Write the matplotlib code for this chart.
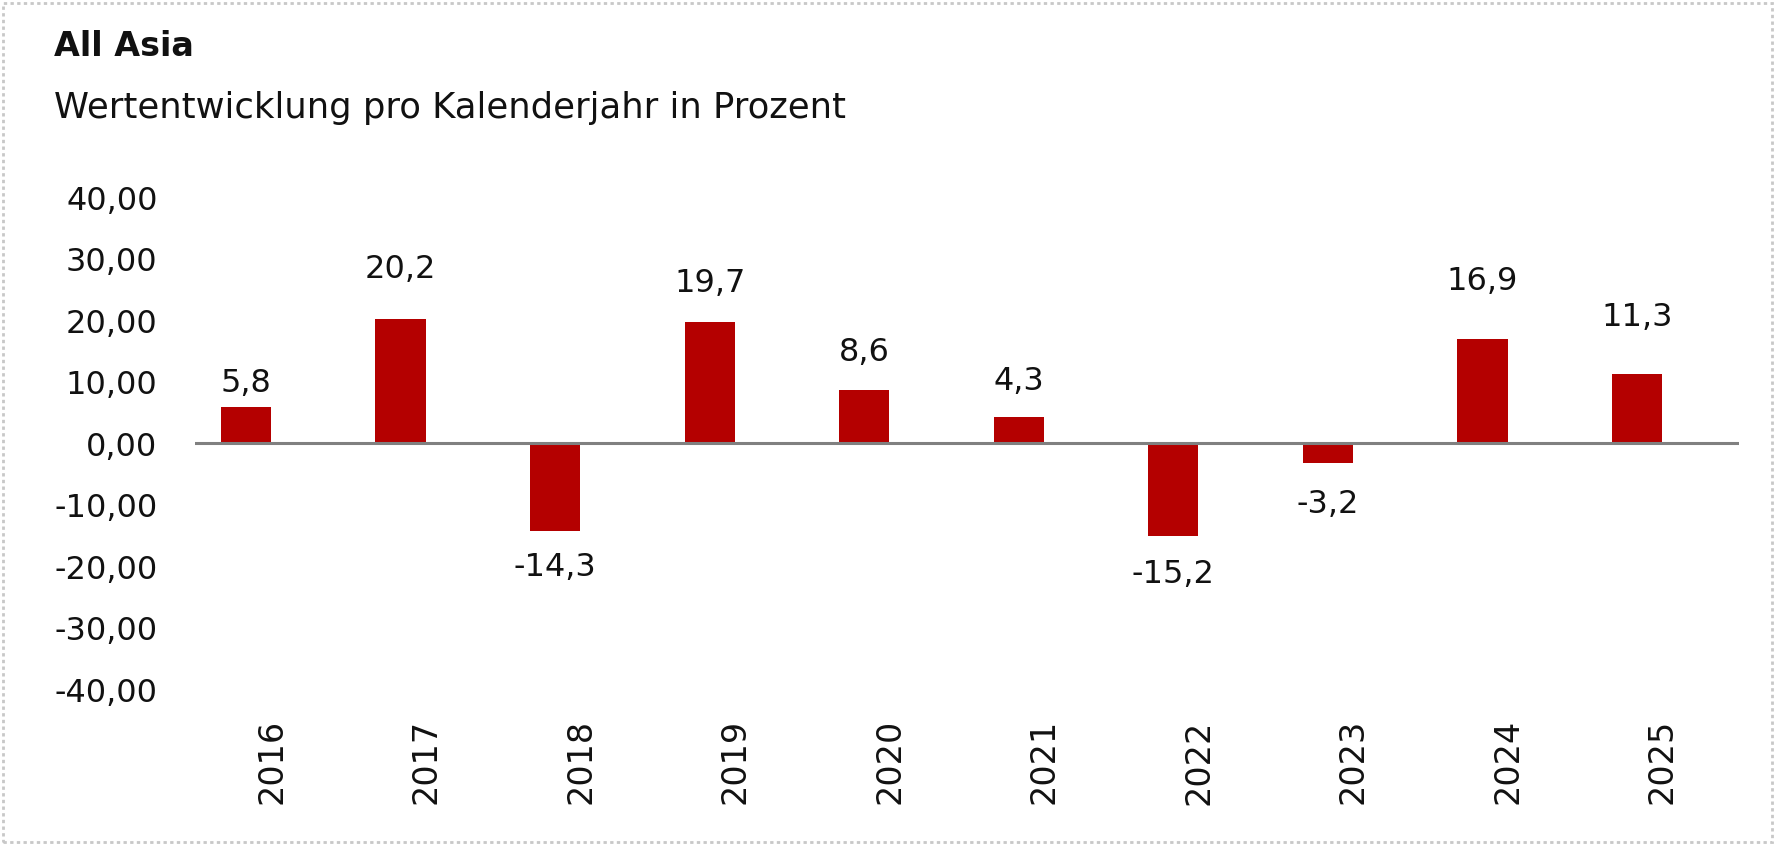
import matplotlib
matplotlib.use("Agg")
import matplotlib.pyplot as plt
from matplotlib.patches import Rectangle
import numpy as np

# ---- data ----
years = ["2016", "2017", "2018", "2019", "2020", "2021", "2022", "2023", "2024", "2025"]
values = [5.8, 20.2, -14.3, 19.7, 8.6, 4.3, -15.2, -3.2, 16.9, 11.3]
yticks = [40, 30, 20, 10, 0, -10, -20, -30, -40]
title = "All Asia"
subtitle = "Wertentwicklung pro Kalenderjahr in Prozent"

# per-label vertical offsets (points), as placed in the original
label_offsets = [17.9, 36, -25.6, 28, 28, 25.8, -27, -29.6, 42, 41.4]

plt.rcParams["font.family"] = ["DejaVu Sans"]

W, H, DPI = 1776, 845, 100
fig = plt.figure(figsize=(W / DPI, H / DPI), dpi=DPI)
fig.patch.set_facecolor("white")

# axes placement (pixels)
ax_left, ax_right, ax_top, ax_bottom = 195, 1739, 198, 690
ax = fig.add_axes([ax_left / W, 1 - ax_bottom / H, (ax_right - ax_left) / W, (ax_bottom - ax_top) / H])

x = np.arange(len(years))
bar_color = "#B40000"
ax.bar(x, values, width=0.325, color=bar_color, zorder=2)
ax.axhline(0, color="#808080", linewidth=2.2, zorder=3)

ax.set_xlim(-0.33, len(years) - 1 + 0.66)
ax.set_ylim(-40, 40)

ax.set_yticks(yticks)
ax.set_yticklabels([f"{v:.2f}".replace(".", ",") for v in yticks])
ax.tick_params(axis="y", length=0, pad=27, labelsize=23, labelcolor="#111111")

ax.set_xticks(x + 0.165)
ax.set_xticklabels(years, rotation=90)
ax.tick_params(axis="x", length=0, pad=21, labelsize=24, labelcolor="#111111")

for s in ax.spines.values():
    s.set_visible(False)

for xi, v, off in zip(x, values, label_offsets):
    ax.annotate(f"{v:.1f}".replace(".", ","), (xi, v), xytext=(0, off),
                textcoords="offset points", ha="center", va="center",
                fontsize=23, color="#111111")

fig.text(54 / W, 1 - 56 / H, title, fontsize=24, fontweight="bold", color="#111111",
         ha="left", va="baseline")
fig.text(54 / W, 1 - 118 / H, subtitle, fontsize=25.5, color="#111111",
         ha="left", va="baseline")

# dotted border
border = Rectangle((2.5 / W, 2.5 / H), (W - 7) / W, (H - 6) / H, transform=fig.transFigure,
                   fill=False, edgecolor="#c8c8c8", linewidth=2, linestyle=(0, (1.2, 1.2)))
fig.patches.append(border)

fig.savefig("out.png", dpi=DPI, facecolor="white")
